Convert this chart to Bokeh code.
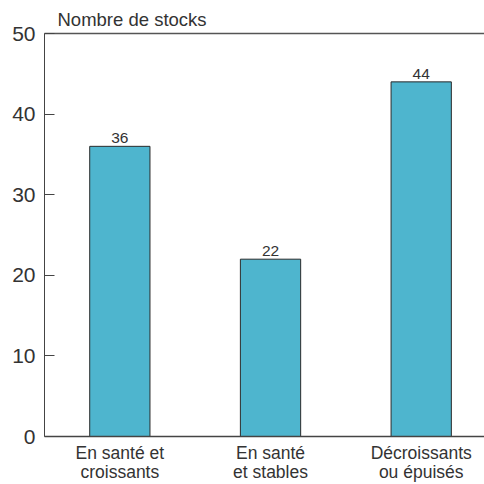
from bokeh.plotting import figure
from bokeh.models import ColumnDataSource, FixedTicker, LinearAxis, Range1d
from bokeh.core.properties import value
from bokeh.embed import file_html
from bokeh.resources import INLINE

categories = ["En santé et\ncroissants", "En santé\net stables", "Décroissants\nou épuisés"]
values = [36, 22, 44]
y_ticks = [0, 10, 20, 30, 40, 50]

FONT = "Liberation Sans"
TXT = "#333333"

xs = list(range(len(categories)))
src = ColumnDataSource(dict(x=xs, top=values, label=[str(v) for v in values]))

p = figure(width=484, height=484, output_backend="svg", toolbar_location=None,
           x_range=Range1d(-0.5, 2.42), y_range=Range1d(0, 50),
           min_border_left=44, min_border_right=0, min_border_top=33, min_border_bottom=46)
p.title.text = "Nombre de stocks"
p.title.text_font = FONT
p.title.text_font_size = "18.5px"
p.title.text_font_style = "normal"
p.title.text_color = TXT
p.title.offset = 13
p.title.standoff = 8

p.outline_line_color = None
p.grid.grid_line_color = None
p.background_fill_color = "white"
p.border_fill_color = "white"

p.vbar(x="x", top="top", width=0.4, source=src, fill_color="#4eb5ce",
       line_color="#2b2b2b", line_width=1)
p.text(x="x", y="top", text="label", source=src, text_align="center",
       text_baseline="bottom", y_offset=-3, text_font=value(FONT),
       text_font_size="15.5px", text_color=TXT)

yax = p.yaxis[0]
yax.ticker = FixedTicker(ticks=y_ticks)
yax.major_tick_in = 10
yax.major_tick_out = 0
yax.minor_tick_line_color = None
yax.axis_line_color = "#444444"
yax.major_tick_line_color = "#444444"
yax.major_label_text_font = FONT
yax.major_label_text_font_size = "21px"
yax.major_label_text_color = TXT
yax.major_label_standoff = 9

xax = p.xaxis[0]
xax.ticker = FixedTicker(ticks=xs)
xax.major_label_overrides = {i: c for i, c in zip(xs, categories)}
xax.major_tick_line_color = None
xax.minor_tick_line_color = None
xax.axis_line_color = "#444444"
xax.axis_line_width = 1.5
xax.major_label_text_font = FONT
xax.major_label_text_font_size = "17.5px"
xax.major_label_text_line_height = 0.95
xax.major_label_text_color = TXT
xax.major_label_standoff = 0

top = LinearAxis(major_tick_line_color=None, minor_tick_line_color=None,
                 major_label_text_font_size="0px", axis_line_color="#555555",
                 axis_line_width=1.5)
top.ticker = FixedTicker(ticks=[])
p.add_layout(top, "above")

open("out.html", "w").write(file_html(p, INLINE))
